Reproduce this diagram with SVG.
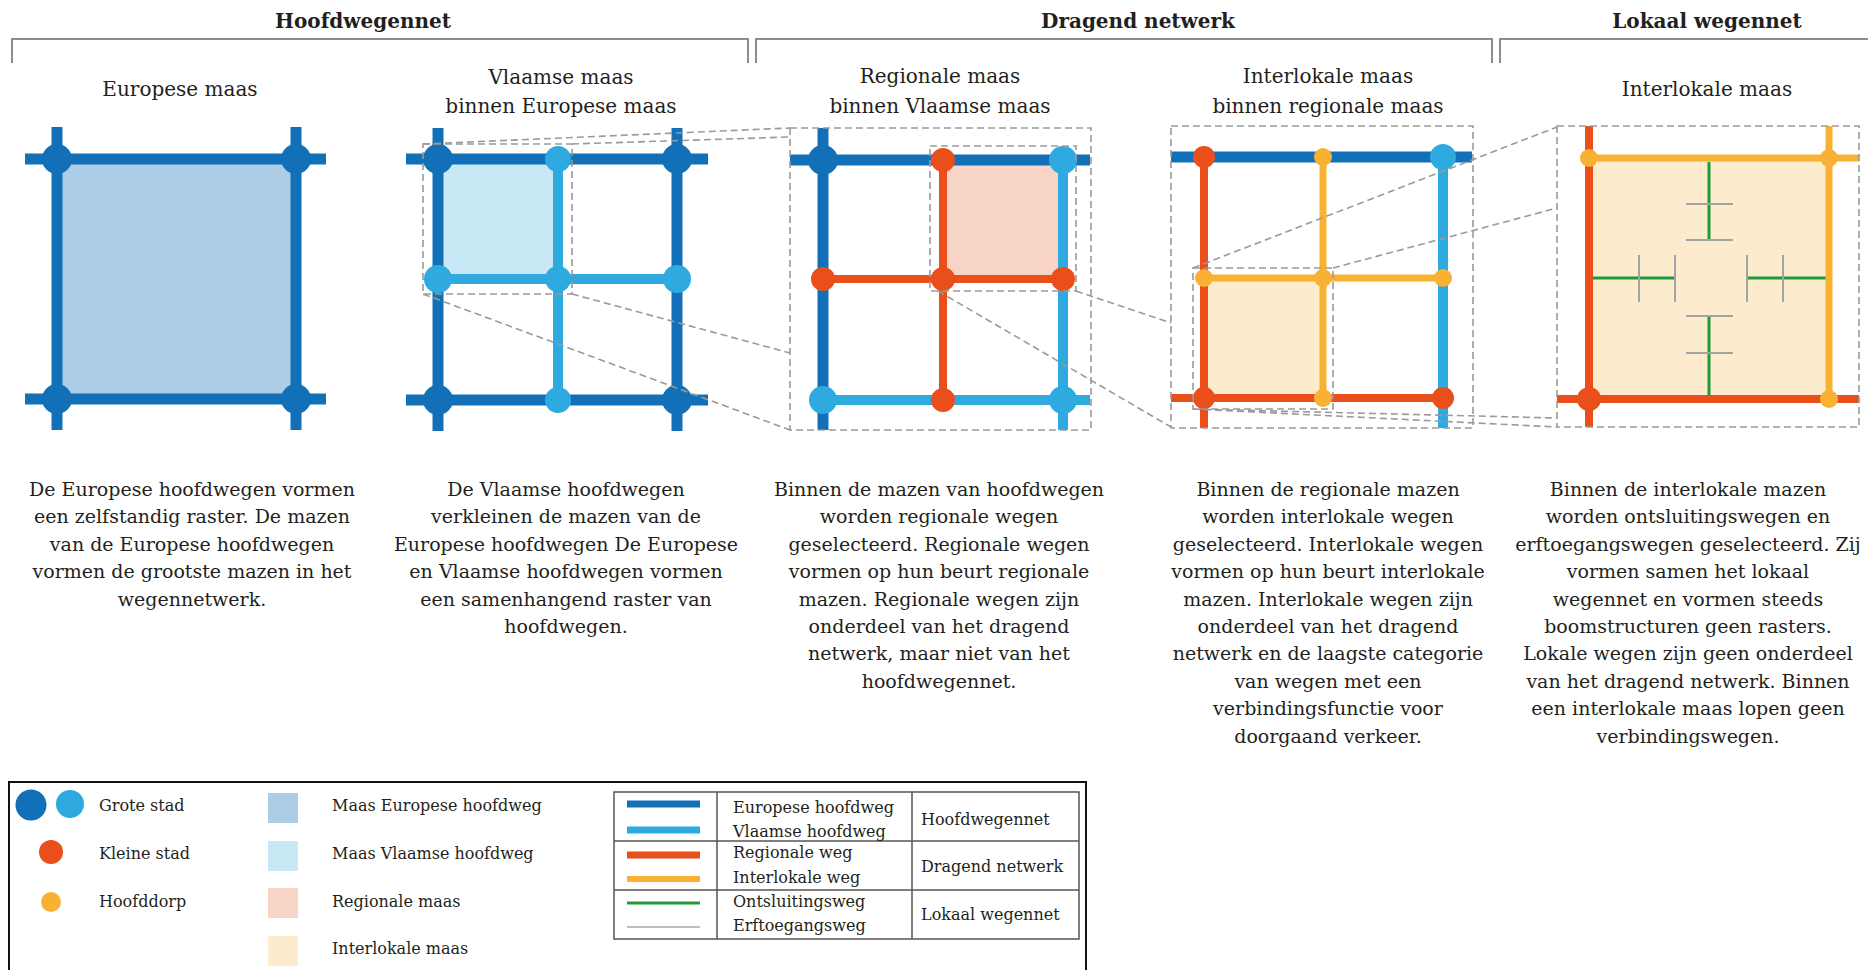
<svg xmlns="http://www.w3.org/2000/svg" width="1868" height="970" viewBox="0 0 1868 970">
<defs>
<style>
text{font-family:"DejaVu Serif","Liberation Serif",serif;fill:#231f20}
.hd{font-size:20px;font-weight:bold;text-anchor:middle}
.ti{font-size:20px;text-anchor:middle}
.p{font-size:19px;text-anchor:middle}
.lg{font-size:16px}
.br{fill:none;stroke:#8c8c8c;stroke-width:2}
.eu{stroke:#1170b8;stroke-width:11;fill:none}
.vl{stroke:#2eaae1;stroke-width:10;fill:none}
.rg{stroke:#e94e1b;stroke-width:8;fill:none}
.il{stroke:#f8b133;stroke-width:7;fill:none}
.on{stroke:#1f9a3c;stroke-width:3;fill:none}
.ef{stroke:#a3a3a3;stroke-width:2;fill:none}
.neu{fill:#1170b8}.nvl{fill:#2eaae1}.nrg{fill:#e94e1b}.nil{fill:#f8b133}
.meu{fill:#abcde6}.mvl{fill:#c9e8f6}.mrg{fill:#f8d4c7}.mil{fill:#fcebcc}
.dash{fill:none;stroke:#9a9a9a;stroke-width:1.6;stroke-dasharray:7 4}
.tb{fill:none;stroke:#555;stroke-width:1.5}
</style>
</defs>
<rect width="1868" height="970" fill="#fff"/>

<g id="headers">
<path class="br" d="M12 63V39H748V63"/>
<path class="br" d="M756 63V39H1492V63"/>
<path class="br" d="M1500 63V39H1868"/>
<text class="hd" x="363" y="28">Hoofdwegennet</text>
<text class="hd" x="1138" y="28">Dragend netwerk</text>
<text class="hd" x="1707" y="28">Lokaal wegennet</text>
</g>

<g id="panel1">
<text class="ti" x="180" y="96">Europese maas</text>
<rect class="meu" x="57" y="159" width="239" height="240"/>
<path class="eu" d="M57 127V430M296 127V430M25 159H326M25 399H326"/>
<circle class="neu" cx="57" cy="159" r="15"/><circle class="neu" cx="296" cy="159" r="15"/>
<circle class="neu" cx="57" cy="399" r="15"/><circle class="neu" cx="296" cy="399" r="15"/>
</g>

<g id="panel2">
<text class="ti" x="561" y="84">Vlaamse maas</text>
<text class="ti" x="561" y="113">binnen Europese maas</text>
<rect class="mvl" x="438" y="159" width="120" height="120"/>
<path class="eu" d="M438 128V431M677 128V431M406 159H708M406 400H708"/>
<path class="vl" d="M558 159V400M438 279H677"/>
<circle class="neu" cx="438" cy="159" r="15"/><circle class="neu" cx="677" cy="159" r="15"/>
<circle class="neu" cx="438" cy="400" r="15"/><circle class="neu" cx="677" cy="400" r="15"/>
<circle class="nvl" cx="558" cy="159" r="13"/><circle class="nvl" cx="438" cy="279" r="14"/>
<circle class="nvl" cx="558" cy="279" r="13"/><circle class="nvl" cx="677" cy="279" r="14"/>
<circle class="nvl" cx="558" cy="400" r="13"/>
<rect class="dash" x="423" y="144" width="149" height="150"/>
</g>

<g id="panel3">
<text class="ti" x="940" y="83">Regionale maas</text>
<text class="ti" x="940" y="113">binnen Vlaamse maas</text>
<rect class="mrg" x="943" y="160" width="120" height="119"/>
<path class="eu" d="M823 128V430M790 160H1090"/>
<path class="vl" d="M1063 160V430M823 400H1090"/>
<path class="rg" d="M823 279H1063M943 160V400"/>
<circle class="neu" cx="823" cy="160" r="15"/>
<circle class="nrg" cx="943" cy="160" r="12"/>
<circle class="nvl" cx="1063" cy="160" r="14"/>
<circle class="nrg" cx="823" cy="279" r="12"/><circle class="nrg" cx="943" cy="279" r="12"/><circle class="nrg" cx="1063" cy="279" r="12"/>
<circle class="nvl" cx="823" cy="400" r="14"/>
<circle class="nrg" cx="943" cy="400" r="12"/>
<circle class="nvl" cx="1063" cy="400" r="14"/>
<rect class="dash" x="790" y="128" width="301" height="302"/>
<rect class="dash" x="930" y="146" width="146" height="145"/>
</g>

<g id="panel4">
<text class="ti" x="1328" y="83">Interlokale maas</text>
<text class="ti" x="1328" y="113">binnen regionale maas</text>
<rect class="mil" x="1204" y="278" width="119" height="120"/>
<path class="eu" d="M1171 157H1472"/>
<path class="vl" d="M1443 157V428"/>
<path class="rg" d="M1204 157V428M1171 398H1443"/>
<path class="il" d="M1323 157V398M1204 278H1443"/>
<circle class="nrg" cx="1204" cy="157" r="11"/>
<circle class="nil" cx="1323" cy="157" r="9"/>
<circle class="nvl" cx="1443" cy="157" r="13"/>
<circle class="nil" cx="1204" cy="278" r="9"/><circle class="nil" cx="1323" cy="278" r="9"/><circle class="nil" cx="1443" cy="278" r="9"/>
<circle class="nrg" cx="1204" cy="398" r="11"/>
<circle class="nil" cx="1323" cy="398" r="9"/>
<circle class="nrg" cx="1443" cy="398" r="11"/>
<rect class="dash" x="1171" y="126" width="302" height="302"/>
<rect class="dash" x="1193" y="268" width="140" height="141"/>
</g>

<g id="panel5">
<text class="ti" x="1707" y="96">Interlokale maas</text>
<rect class="mil" x="1589" y="158" width="240" height="241"/>
<path class="on" d="M1709 162V240M1709 317V395M1593 278H1675M1747 278H1826"/>
<path class="ef" d="M1686 204H1733M1686 240H1733M1686 316H1733M1686 353H1733M1639 255V302M1675 255V302M1747 255V302M1783 255V302"/>
<path class="rg" d="M1589 126V427M1557 399H1859"/>
<path class="il" d="M1589 158H1859M1829 126V399"/>
<circle class="nil" cx="1589" cy="158" r="9"/><circle class="nil" cx="1829" cy="158" r="9"/>
<circle class="nrg" cx="1589" cy="399" r="12"/><circle class="nil" cx="1829" cy="399" r="9"/>
<rect class="dash" x="1557" y="126" width="302" height="301"/>
</g>

<g id="connectors">
<path class="dash" d="M423 144L790 128M572 144L790 137M572 294L790 353M423 294L790 430"/>
<path class="dash" d="M1076 291L1171 323M938 291L1171 427"/>
<path class="dash" d="M1193 268L1557 127M1333 268L1557 208M1193 409L1557 418M1193 409L1557 427"/>
</g>

<g id="texts">
<text class="p" x="192"><tspan x="192" y="496">De Europese hoofdwegen vormen</tspan><tspan x="192" y="523.4">een zelfstandig raster. De mazen</tspan><tspan x="192" y="550.8">van de Europese hoofdwegen</tspan><tspan x="192" y="578.2">vormen de grootste mazen in het</tspan><tspan x="192" y="605.6">wegennetwerk.</tspan></text>
<text class="p" x="566"><tspan x="566" y="496">De Vlaamse hoofdwegen</tspan><tspan x="566" y="523.4">verkleinen de mazen van de</tspan><tspan x="566" y="550.8">Europese hoofdwegen De Europese</tspan><tspan x="566" y="578.2">en Vlaamse hoofdwegen vormen</tspan><tspan x="566" y="605.6">een samenhangend raster van</tspan><tspan x="566" y="633">hoofdwegen.</tspan></text>
<text class="p" x="939"><tspan x="939" y="496">Binnen de mazen van hoofdwegen</tspan><tspan x="939" y="523.4">worden regionale wegen</tspan><tspan x="939" y="550.8">geselecteerd. Regionale wegen</tspan><tspan x="939" y="578.2">vormen op hun beurt regionale</tspan><tspan x="939" y="605.6">mazen. Regionale wegen zijn</tspan><tspan x="939" y="633">onderdeel van het dragend</tspan><tspan x="939" y="660.4">netwerk, maar niet van het</tspan><tspan x="939" y="687.8">hoofdwegennet.</tspan></text>
<text class="p" x="1328"><tspan x="1328" y="496">Binnen de regionale mazen</tspan><tspan x="1328" y="523.4">worden interlokale wegen</tspan><tspan x="1328" y="550.8">geselecteerd. Interlokale wegen</tspan><tspan x="1328" y="578.2">vormen op hun beurt interlokale</tspan><tspan x="1328" y="605.6">mazen. Interlokale wegen zijn</tspan><tspan x="1328" y="633">onderdeel van het dragend</tspan><tspan x="1328" y="660.4">netwerk en de laagste categorie</tspan><tspan x="1328" y="687.8">van wegen met een</tspan><tspan x="1328" y="715.2">verbindingsfunctie voor</tspan><tspan x="1328" y="742.6">doorgaand verkeer.</tspan></text>
<text class="p" x="1688"><tspan x="1688" y="496">Binnen de interlokale mazen</tspan><tspan x="1688" y="523.4">worden ontsluitingswegen en</tspan><tspan x="1688" y="550.8">erftoegangswegen geselecteerd. Zij</tspan><tspan x="1688" y="578.2">vormen samen het lokaal</tspan><tspan x="1688" y="605.6">wegennet en vormen steeds</tspan><tspan x="1688" y="633">boomstructuren geen rasters.</tspan><tspan x="1688" y="660.4">Lokale wegen zijn geen onderdeel</tspan><tspan x="1688" y="687.8">van het dragend netwerk. Binnen</tspan><tspan x="1688" y="715.2">een interlokale maas lopen geen</tspan><tspan x="1688" y="742.6">verbindingswegen.</tspan></text>
</g>

<g id="legend">
<rect x="9" y="782" width="1077" height="210" fill="none" stroke="#111" stroke-width="2"/>
<circle class="neu" cx="31" cy="805" r="15.5"/><circle class="nvl" cx="70" cy="804" r="14"/>
<text class="lg" x="99" y="811">Grote stad</text>
<circle class="nrg" cx="51" cy="852" r="12"/>
<text class="lg" x="99" y="859">Kleine stad</text>
<circle class="nil" cx="51" cy="902" r="10"/>
<text class="lg" x="99" y="907">Hoofddorp</text>
<rect class="meu" x="268" y="793" width="30" height="30"/>
<text class="lg" x="332" y="811">Maas Europese hoofdweg</text>
<rect class="mvl" x="268" y="841" width="30" height="30"/>
<text class="lg" x="332" y="859">Maas Vlaamse hoofdweg</text>
<rect class="mrg" x="268" y="888" width="30" height="30"/>
<text class="lg" x="332" y="907">Regionale maas</text>
<rect class="mil" x="268" y="936" width="30" height="30"/>
<text class="lg" x="332" y="954">Interlokale maas</text>
<g id="legend-table">
<rect class="tb" x="614" y="792" width="465" height="147"/>
<path class="tb" d="M717 792V939M912 792V939M614 841H1079M614 890H1079"/>
<path stroke="#1170b8" stroke-width="7" d="M627 804H700"/>
<path stroke="#2eaae1" stroke-width="7" d="M627 830H700"/>
<path stroke="#e94e1b" stroke-width="7" d="M627 855H700"/>
<path stroke="#f8b133" stroke-width="6" d="M627 879H700"/>
<path stroke="#1f9a3c" stroke-width="3" d="M627 903H700"/>
<path stroke="#aaaaaa" stroke-width="1.5" d="M627 927H700"/>
<text class="lg" x="733" y="813">Europese hoofdweg</text>
<text class="lg" x="733" y="837">Vlaamse hoofdweg</text>
<text class="lg" x="733" y="858">Regionale weg</text>
<text class="lg" x="733" y="883">Interlokale weg</text>
<text class="lg" x="733" y="907">Ontsluitingsweg</text>
<text class="lg" x="733" y="931">Erftoegangsweg</text>
<text class="lg" x="921" y="825">Hoofdwegennet</text>
<text class="lg" x="921" y="872">Dragend netwerk</text>
<text class="lg" x="921" y="920">Lokaal wegennet</text>
</g>
</g>
</svg>
